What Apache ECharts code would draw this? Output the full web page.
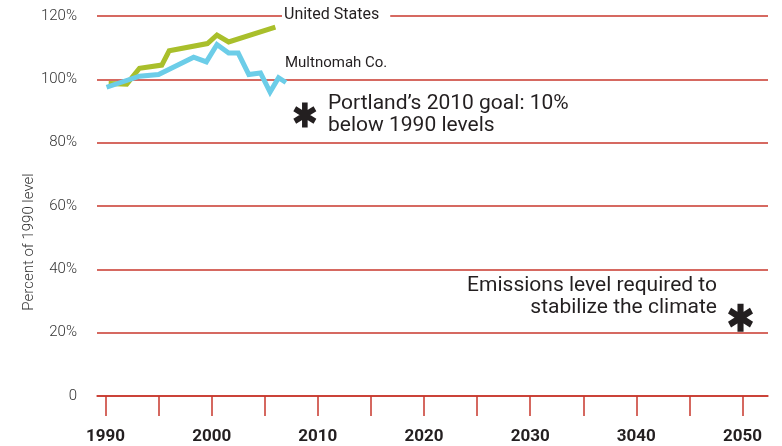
<!DOCTYPE html>
<html>
<head>
<meta charset="utf-8">
<title>Percent of 1990 level</title>
<script src="https://cdn.jsdelivr.net/npm/echarts@6/dist/echarts.min.js"></script>
<style>
  html, body { margin: 0; padding: 0; background: #fff; }
  #chart { width: 782px; height: 446px; }
</style>
</head>
<body>
<div id="chart"></div>
<script>
// [year, percent of 1990 level]
const unitedStates = [
  [1990.3, 98.7], [1992.0, 98.5], [1993.2, 103.5], [1995.3, 104.5], [1996.0, 109],
  [1999.6, 111.3], [2000.5, 114], [2001.6, 111.8], [2006.0, 116.5]
]
const multnomah = [
  [1990.1, 97.5], [1993.2, 101], [1995.0, 101.5], [1998.3, 107], [1999.5, 105.5],
  [2000.5, 111], [2001.6, 108.3], [2002.5, 108.3], [2003.5, 101.5], [2004.6, 102],
  [2005.5, 96], [2006.3, 100.5], [2007.0, 99]
]
// goals marked with an asterisk
const goals = [[2010, 90], [2050, 20]]

const xTickValues = [1990, 1995, 2000, 2005, 2010, 2015, 2020, 2025, 2030, 2035, 2040, 2045, 2050]
const xLabelValues = [1990, 2000, 2010, 2020, 2030, 2040, 2050]
const xLabels = ['1990', '2000', '2010', '2020', '2030', '3040', '2050']

const red = '#c8372d'
const ink = '#231f20'
const font = 'Roboto, sans-serif'

// six-armed asterisk
function asteriskPath() {
  let d = ''
  const L = 50
  const t = 12
  for (const deg of [90, 30, -30]) {
    const a = deg * Math.PI / 180
    const dx = Math.cos(a), dy = Math.sin(a)
    const nx = -dy, ny = dx
    const pts = [
      [50 + L * dx + t * nx, 50 + L * dy + t * ny],
      [50 + L * dx - t * nx, 50 + L * dy - t * ny],
      [50 - L * dx - t * nx, 50 - L * dy - t * ny],
      [50 - L * dx + t * nx, 50 - L * dy + t * ny]
    ]
    d += 'M' + pts.map(p => p[0].toFixed(2) + ' ' + p[1].toFixed(2)).join(' L') + ' Z '
  }
  return 'path://' + d
}

const chart = echarts.init(document.getElementById('chart'))

chart.setOption({
  animation: false,
  grid: { left: 97, right: 14, top: 16, bottom: 50 },
  xAxis: {
    type: 'value',
    min: 1989.2,
    max: 2052.4,
    axisLine: { show: true, lineStyle: { color: red, width: 1.5 } },
    axisTick: {
      show: true,
      customValues: xTickValues,
      length: 20,
      lineStyle: { color: red, width: 1.5 }
    },
    splitLine: { show: false },
    axisLabel: {
      customValues: xLabelValues,
      margin: 32,
      color: ink,
      fontFamily: font,
      fontWeight: 'bold',
      fontSize: 17,
      formatter: v => xLabels[xLabelValues.indexOf(Math.round(v))]
    }
  },
  yAxis: {
    type: 'value',
    min: 0,
    max: 120,
    interval: 20,
    axisLine: { show: false },
    axisTick: { show: false },
    splitLine: { show: true, lineStyle: { color: red, width: 1.5 } },
    axisLabel: {
      margin: 20,
      color: '#333',
      fontFamily: font,
      fontWeight: 300,
      fontSize: 15,
      formatter: v => v === 0 ? '0' : v + '%'
    }
  },
  series: [
    {
      name: 'United States',
      type: 'line',
      data: unitedStates,
      showSymbol: false,
      lineStyle: { color: '#a9bf2b', width: 5, join: 'miter' },
      z: 3
    },
    {
      name: 'Multnomah Co.',
      type: 'line',
      data: multnomah,
      showSymbol: false,
      lineStyle: { color: '#6ccde8', width: 5, join: 'miter' },
      z: 4
    },
    {
      name: 'Goals',
      type: 'scatter',
      symbol: asteriskPath(),
      itemStyle: { color: ink, opacity: 1 },
      data: [
        { value: goals[0], symbolSize: [23, 25], symbolOffset: [-13, 4] },
        { value: goals[1], symbolSize: [25, 28], symbolOffset: [-2, -15] }
      ],
      z: 5
    }
  ],
  graphic: [
    {
      type: 'text',
      x: 29, y: 242,
      rotation: Math.PI / 2,
      style: {
        text: 'Percent of 1990 level',
        font: '300 15px ' + font,
        fill: '#333',
        textAlign: 'center',
        textVerticalAlign: 'middle'
      }
    },
    {
      type: 'text',
      left: 282, top: 5,
      z: 10,
      style: {
        text: 'United States',
        font: '16px ' + font,
        fill: ink,
        backgroundColor: '#fff',
        padding: [2, 11, 2, 2]
      }
    },
    {
      type: 'text',
      left: 285, top: 56,
      z: 10,
      style: {
        text: 'Multnomah Co.',
        font: '15px ' + font,
        fill: ink
      }
    },
    {
      type: 'text',
      left: 328, top: 93,
      z: 10,
      style: {
        text: 'Portland\u2019s 2010 goal: 10%\nbelow 1990 levels',
        font: '21px ' + font,
        lineHeight: 22,
        fill: ink
      }
    },
    {
      type: 'text',
      right: 65, top: 275,
      z: 10,
      style: {
        text: 'Emissions level required to\nstabilize the climate',
        font: '21px ' + font,
        lineHeight: 22,
        fill: ink,
        textAlign: 'right'
      }
    }
  ]
})
</script>
</body>
</html>
